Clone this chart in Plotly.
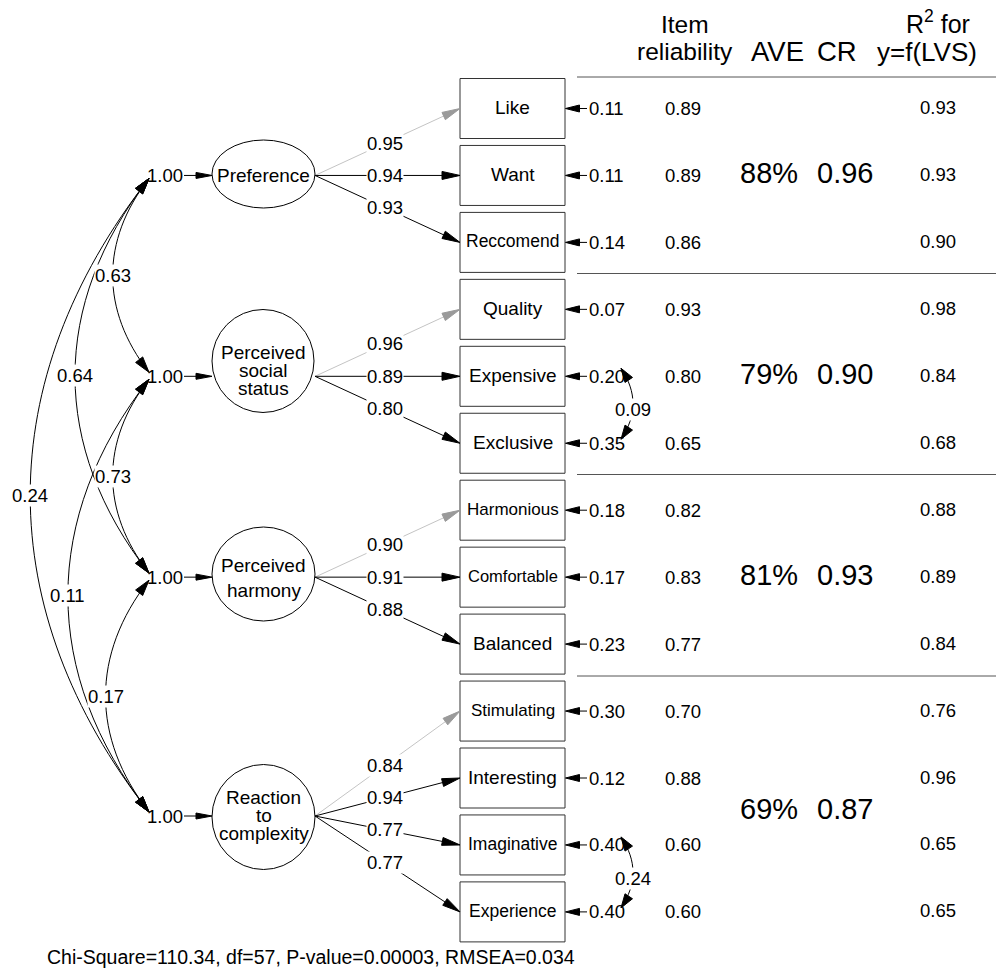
import math
import plotly.graph_objects as go

# ---------------- data ----------------
items = ["Like", "Want", "Reccomend", "Quality", "Expensive", "Exclusive",
         "Harmonious", "Comfortable", "Balanced", "Stimulating", "Interesting",
         "Imaginative", "Experience"]
item_factor = [0, 0, 0, 1, 1, 1, 2, 2, 2, 3, 3, 3, 3]
loadings = [0.95, 0.94, 0.93, 0.96, 0.89, 0.80, 0.90, 0.91, 0.88, 0.84, 0.94, 0.77, 0.77]
residuals = [0.11, 0.11, 0.14, 0.07, 0.20, 0.35, 0.18, 0.17, 0.23, 0.30, 0.12, 0.40, 0.40]
item_reliability = [0.89, 0.89, 0.86, 0.93, 0.80, 0.65, 0.82, 0.83, 0.77, 0.70, 0.88, 0.60, 0.60]
r2_values = [0.93, 0.93, 0.90, 0.98, 0.84, 0.68, 0.88, 0.89, 0.84, 0.76, 0.96, 0.65, 0.65]

factors = [["Preference"], ["Perceived", "social", "status"],
           ["Perceived", "harmony"], ["Reaction", "to", "complexity"]]
factor_variance = [1.00, 1.00, 1.00, 1.00]
ave_pct = [88, 79, 81, 69]
cr_values = [0.96, 0.90, 0.93, 0.87]

cov_from = [0, 0, 0, 1, 1, 2]
cov_to = [1, 2, 3, 2, 3, 3]
cov_values = [0.63, 0.64, 0.24, 0.73, 0.11, 0.17]

rescov_from = [4, 11]
rescov_to = [5, 12]
rescov_values = [0.09, 0.24]

header_item = ["Item", "reliability"]
header_ave = "AVE"
header_cr = "CR"
header_r2 = ["R<sup>2</sup> for", "y=f(LVS)"]
fit_text = "Chi-Square=110.34, df=57, P-value=0.00003, RMSEA=0.034"

# ---------------- layout / style ----------------
W, H = 996, 968
FONT = "Liberation Sans, Arial, Helvetica, sans-serif"
ROW0, ROW_STEP = 108.5, 66.95
BOX_X0, BOX_X1, BOX_H = 460, 565, 60
row_y = [ROW0 + ROW_STEP * i for i in range(len(items))]
factor_y = [row_y[1], row_y[4], row_y[7], 816]
ell = [  # cx, cy, rx, ry
    (263.5, 174, 51.5, 34),
    (263, 361, 51, 51.5),
    (263.5, 574, 51.5, 47),
    (263.5, 817, 51.5, 52.5),
]
ell_text_y = [[175], [352, 370.5, 388.5], [565.5, 590.5], [797, 815, 833]]
box_font = {"Reccomend": 17.5, "Harmonious": 17, "Comfortable": 16.5,
            "Stimulating": 17, "Imaginative": 17.5, "Experience": 17.5}
num_size = 18.5
first_items = {0, 3, 6, 9}
GRAY_LINE, GRAY_HEAD = "#c4c4c4", "#9a9a9a"

shapes = []
annotations = []


def text(x, y, s, size=num_size, xanchor="center", bg=None):
    a = dict(x=x, y=y, xref="x", yref="y", text=s, showarrow=False,
             xanchor=xanchor, yanchor="middle",
             font=dict(family=FONT, size=size, color="black"))
    if bg:
        a["bgcolor"] = bg
        a["borderpad"] = 0
    annotations.append(a)


def line(x0, y0, x1, y1, color="black", width=1):
    shapes.append(dict(type="line", xref="x", yref="y", x0=x0, y0=y0, x1=x1, y1=y1,
                       line=dict(color=color, width=width), layer="below"))


def head(tx, ty, dx, dy, L=15, Wd=7, color="black"):
    n = math.hypot(dx, dy)
    ux, uy = dx / n, dy / n
    bx, by = tx - L * ux, ty - L * uy
    px, py = -uy, ux
    p1 = (bx + Wd / 2 * px, by + Wd / 2 * py)
    p2 = (bx - Wd / 2 * px, by - Wd / 2 * py)
    shapes.append(dict(type="path", xref="x", yref="y",
                       path=f"M {tx},{ty} L {p1[0]},{p1[1]} L {p2[0]},{p2[1]} Z",
                       fillcolor=color, line=dict(color=color, width=1), layer="above"))


def arrow(x0, y0, x1, y1, color="black", hcolor=None, L=15, Wd=7):
    dx, dy = x1 - x0, y1 - y0
    n = math.hypot(dx, dy)
    line(x0, y0, x1 - dx / n * (L - 2), y1 - dy / n * (L - 2), color)
    head(x1, y1, dx, dy, L, Wd, hcolor or color)


def bezier(p0, p1, p2, p3, color="black"):
    shapes.append(dict(type="path", xref="x", yref="y",
                       path=f"M {p0[0]},{p0[1]} C {p1[0]},{p1[1]} {p2[0]},{p2[1]} {p3[0]},{p3[1]}",
                       line=dict(color=color, width=1), layer="below"))


# header
text(685, 24, header_item[0], 24.5)
text(685, 51, header_item[1], 24.5)
text(777, 51, header_ave, 27.5)
text(837, 51, header_cr, 27.5)
text(938, 22, header_r2[0], 25)
text(927, 52, header_r2[1], 26)

# separators
for y in [77, 273.5, 474.5, 676]:
    line(577, y, 996, y, "#555555", 1)

# item boxes, residuals, reliability, R2
for i, name in enumerate(items):
    y = row_y[i]
    shapes.append(dict(type="rect", xref="x", yref="y", x0=BOX_X0, x1=BOX_X1,
                       y0=y - BOX_H / 2, y1=y + BOX_H / 2,
                       line=dict(color="#333333", width=1), fillcolor="white", layer="below"))
    text((BOX_X0 + BOX_X1) / 2, y - 1, name, box_font.get(name, 19))
    arrow(587, y, 565.5, y, L=14, Wd=7)
    text(587, y, f"{residuals[i]:.2f}", num_size, xanchor="left")
    text(683, y, f"{item_reliability[i]:.2f}", num_size)
    text(938, y - 1, f"{r2_values[i]:.2f}", num_size)

# loadings
for i, f in enumerate(item_factor):
    x0, y0 = 315, factor_y[f]
    x1, y1 = BOX_X0, row_y[i]
    if i in first_items:
        arrow(x0, y0, x1, y1, GRAY_LINE, GRAY_HEAD, L=18, Wd=8)
    else:
        arrow(x0, y0, x1, y1, "black", L=18, Wd=8)
    t = (385 - x0) / (x1 - x0)
    text(385, y0 + t * (y1 - y0), f"{loadings[i]:.2f}", num_size, bg="white")

# factors
for k, (cx, cy, rx, ry) in enumerate(ell):
    shapes.append(dict(type="circle", xref="x", yref="y", x0=cx - rx, x1=cx + rx,
                       y0=cy - ry, y1=cy + ry, line=dict(color="black", width=1),
                       fillcolor="white", layer="below"))
    for s, ty in zip(factors[k], ell_text_y[k]):
        text(cx, ty, s, 19)
    fy = factor_y[k]
    text(165, fy, f"{factor_variance[k]:.2f}", num_size)
    arrow(184, fy, 212, fy, L=16, Wd=6)

# AVE / CR
for k in range(4):
    rows = [row_y[i] for i, f in enumerate(item_factor) if f == k]
    y = sum(rows) / len(rows) - 2
    text(769, y, f"{ave_pct[k]}%", 29)
    text(845, y, f"{cr_values[k]:.2f}", 29)

# factor covariances
XC = 149
for a_, b_, v in zip(cov_from, cov_to, cov_values):
    ya, yb = factor_y[a_] + 3, factor_y[b_] - 4
    span = yb - ya
    dxc = 0.25 * span
    dyc = 0.32 * span
    p0, p1, p2, p3 = (XC, ya), (XC - dxc, ya + dyc), (XC - dxc, yb - dyc), (XC, yb)
    bezier(p0, p1, p2, p3)
    head(p0[0], p0[1], dxc, -dyc, L=16, Wd=9)
    head(p3[0], p3[1], dxc, dyc, L=16, Wd=9)
    text(XC - 0.75 * dxc, (ya + yb) / 2, f"{v:.2f}", num_size, bg="white")

# residual covariances
for a_, b_, v in zip(rescov_from, rescov_to, rescov_values):
    ya, yb = row_y[a_] - 8, row_y[b_] - 4
    p0, p1, p2, p3 = (621, ya), (637, ya + 24), (637, yb - 24), (621, yb)
    bezier(p0, p1, p2, p3)
    head(p0[0], p0[1], -16, -24, L=14, Wd=9)
    head(p3[0], p3[1], -16, 24, L=14, Wd=9)
    text(633, (row_y[a_] + row_y[b_]) / 2, f"{v:.2f}", num_size, bg="white")

# fit statistics
text(45, 957, fit_text, 19.5, xanchor="left")

fig = go.Figure()
fig.add_trace(go.Scatter(x=[0, W], y=[0, H], mode="markers",
                         marker=dict(opacity=0), hoverinfo="skip", showlegend=False))
fig.update_layout(
    width=W, height=H, margin=dict(l=0, r=0, t=0, b=0),
    paper_bgcolor="white", plot_bgcolor="white",
    xaxis=dict(range=[0, W], visible=False, fixedrange=True),
    yaxis=dict(range=[H, 0], visible=False, fixedrange=True),
    shapes=shapes, annotations=annotations, showlegend=False,
)
fig.write_html("out.html", config={"displayModeBar": False},
               post_script="document.body.style.margin='0px';document.body.style.overflow='hidden';")
